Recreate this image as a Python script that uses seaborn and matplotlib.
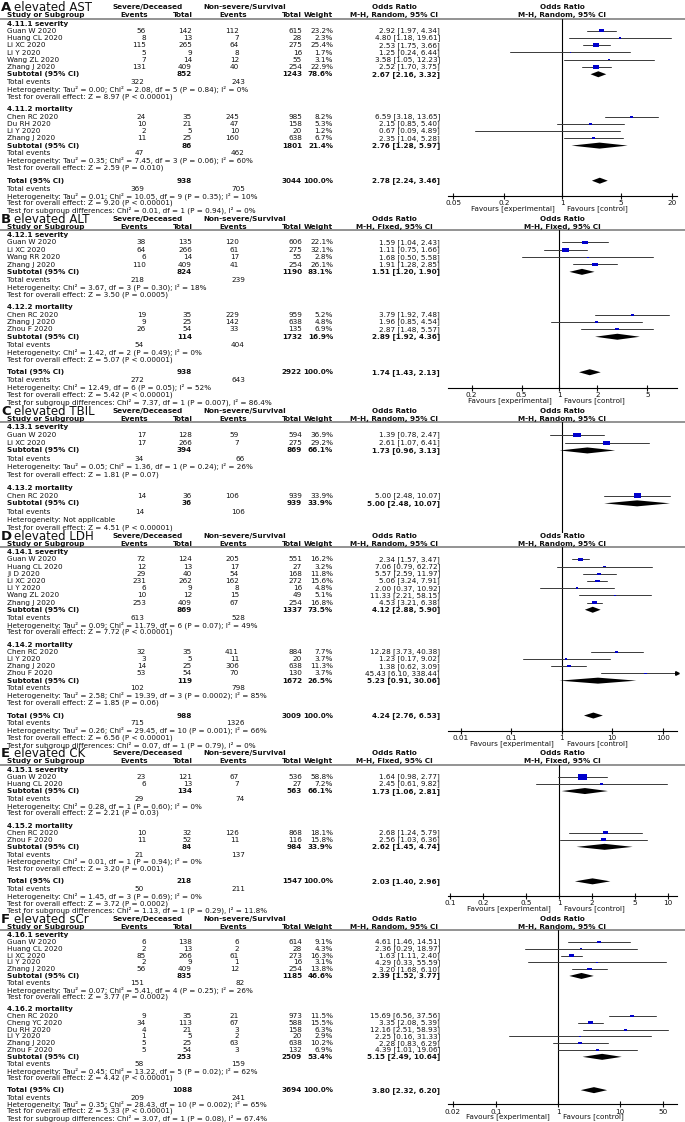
import numpy as np
import pandas as pd
import matplotlib
matplotlib.use("Agg")
import matplotlib.pyplot as plt
from matplotlib.path import Path
from matplotlib.ticker import NullLocator
import seaborn as sns

sns.set_theme(style="white")
plt.rcParams["font.family"] = ["DejaVu Sans"]

# ------------------------------------------------------------------
# data: (study, events sev, total sev, events non-sev, total non-sev, weight %, OR, low, high)
# ------------------------------------------------------------------
ast_sev = dict(
    label="4.11.1 severity",
    rows=[("Guan W 2020", 56, 142, 112, 615, 23.2, 2.92, 1.97, 4.34),
          ("Huang CL 2020", 8, 13, 7, 28, 2.3, 4.80, 1.18, 19.61),
          ("Li XC 2020", 115, 265, 64, 275, 25.4, 2.53, 1.75, 3.66),
          ("Li Y 2020", 5, 9, 8, 16, 1.7, 1.25, 0.24, 6.44),
          ("Wang ZL 2020", 7, 14, 12, 55, 3.1, 3.58, 1.05, 12.23),
          ("Zhang J 2020", 131, 409, 40, 254, 22.9, 2.52, 1.70, 3.75)],
    sub=(852, 1243, 78.6, 2.67, 2.16, 3.32), events=(322, 243),
    het="Tau² = 0.00; Chi² = 2.08, df = 5 (P = 0.84); I² = 0%",
    z="Z = 8.97 (P < 0.00001)")
ast_mort = dict(
    label="4.11.2 mortality",
    rows=[("Chen RC 2020", 24, 35, 245, 985, 8.2, 6.59, 3.18, 13.65),
          ("Du RH 2020", 10, 21, 47, 158, 5.3, 2.15, 0.85, 5.40),
          ("Li Y 2020", 2, 5, 10, 20, 1.2, 0.67, 0.09, 4.89),
          ("Zhang J 2020", 11, 25, 160, 638, 6.7, 2.35, 1.04, 5.28)],
    sub=(86, 1801, 21.4, 2.76, 1.28, 5.97), events=(47, 462),
    het="Tau² = 0.35; Chi² = 7.45, df = 3 (P = 0.06); I² = 60%",
    z="Z = 2.59 (P = 0.010)")
ast_total = dict(sub=(938, 3044, 100.0, 2.78, 2.24, 3.46), events=(369, 705),
                 het="Tau² = 0.01; Chi² = 10.05, df = 9 (P = 0.35); I² = 10%",
                 z="Z = 9.20 (P < 0.00001)",
                 diff="Chi² = 0.01, df = 1 (P = 0.94), I² = 0%")
ast_ticks = [0.05, 0.2, 1, 5, 20]

alt_sev = dict(
    label="4.12.1 severity",
    rows=[("Guan W 2020", 38, 135, 120, 606, 22.1, 1.59, 1.04, 2.43),
          ("Li XC 2020", 64, 266, 61, 275, 32.1, 1.11, 0.75, 1.66),
          ("Wang RR 2020", 6, 14, 17, 55, 2.8, 1.68, 0.50, 5.58),
          ("Zhang J 2020", 110, 409, 41, 254, 26.1, 1.91, 1.28, 2.85)],
    sub=(824, 1190, 83.1, 1.51, 1.20, 1.90), events=(218, 239),
    het="Chi² = 3.67, df = 3 (P = 0.30); I² = 18%",
    z="Z = 3.50 (P = 0.0005)")
alt_mort = dict(
    label="4.12.2 mortality",
    rows=[("Chen RC 2020", 19, 35, 229, 959, 5.2, 3.79, 1.92, 7.48),
          ("Zhang J 2020", 9, 25, 142, 638, 4.8, 1.96, 0.85, 4.54),
          ("Zhou F 2020", 26, 54, 33, 135, 6.9, 2.87, 1.48, 5.57)],
    sub=(114, 1732, 16.9, 2.89, 1.92, 4.36), events=(54, 404),
    het="Chi² = 1.42, df = 2 (P = 0.49); I² = 0%",
    z="Z = 5.07 (P < 0.00001)")
alt_total = dict(sub=(938, 2922, 100.0, 1.74, 1.43, 2.13), events=(272, 643),
                 het="Chi² = 12.49, df = 6 (P = 0.05); I² = 52%",
                 z="Z = 5.42 (P < 0.00001)",
                 diff="Chi² = 7.37, df = 1 (P = 0.007), I² = 86.4%")
alt_ticks = [0.2, 0.5, 1, 2, 5]

tbil_sev = dict(
    label="4.13.1 severity",
    rows=[("Guan W 2020", 17, 128, 59, 594, 36.9, 1.39, 0.78, 2.47),
          ("Li XC 2020", 17, 266, 7, 275, 29.2, 2.61, 1.07, 6.41)],
    sub=(394, 869, 66.1, 1.73, 0.96, 3.13), events=(34, 66),
    het="Tau² = 0.05; Chi² = 1.36, df = 1 (P = 0.24); I² = 26%",
    z="Z = 1.81 (P = 0.07)")
tbil_mort = dict(
    label="4.13.2 mortality",
    rows=[("Chen RC 2020", 14, 36, 106, 939, 33.9, 5.00, 2.48, 10.07)],
    sub=(36, 939, 33.9, 5.00, 2.48, 10.07), events=(14, 106),
    het="Not applicable",
    z="Z = 4.51 (P < 0.00001)")

ldh_sev = dict(
    label="4.14.1 severity",
    rows=[("Guan W 2020", 72, 124, 205, 551, 16.2, 2.34, 1.57, 3.47),
          ("Huang CL 2020", 12, 13, 17, 27, 3.2, 7.06, 0.79, 62.72),
          ("Ji D 2020", 29, 40, 54, 168, 11.8, 5.57, 2.59, 11.97),
          ("Li XC 2020", 231, 262, 162, 272, 15.6, 5.06, 3.24, 7.91),
          ("Li Y 2020", 6, 9, 8, 16, 4.8, 2.00, 0.37, 10.92),
          ("Wang ZL 2020", 10, 12, 15, 49, 5.1, 11.33, 2.21, 58.15),
          ("Zhang J 2020", 253, 409, 67, 254, 16.8, 4.53, 3.21, 6.38)],
    sub=(869, 1337, 73.5, 4.12, 2.88, 5.90), events=(613, 528),
    het="Tau² = 0.09; Chi² = 11.79, df = 6 (P = 0.07); I² = 49%",
    z="Z = 7.72 (P < 0.00001)")
ldh_mort = dict(
    label="4.14.2 mortality",
    rows=[("Chen RC 2020", 32, 35, 411, 884, 7.7, 12.28, 3.73, 40.38),
          ("Li Y 2020", 3, 5, 11, 20, 3.7, 1.23, 0.17, 9.02),
          ("Zhang J 2020", 14, 25, 306, 638, 11.3, 1.38, 0.62, 3.09),
          ("Zhou F 2020", 53, 54, 70, 130, 3.7, 45.43, 6.10, 338.44)],
    sub=(119, 1672, 26.5, 5.23, 0.91, 30.06), events=(102, 798),
    het="Tau² = 2.58; Chi² = 19.39, df = 3 (P = 0.0002); I² = 85%",
    z="Z = 1.85 (P = 0.06)")
ldh_total = dict(sub=(988, 3009, 100.0, 4.24, 2.76, 6.53), events=(715, 1326),
                 het="Tau² = 0.26; Chi² = 29.45, df = 10 (P = 0.001); I² = 66%",
                 z="Z = 6.56 (P < 0.00001)",
                 diff="Chi² = 0.07, df = 1 (P = 0.79), I² = 0%")
ldh_ticks = [0.01, 0.1, 1, 10, 100]

ck_sev = dict(
    label="4.15.1 severity",
    rows=[("Guan W 2020", 23, 121, 67, 536, 58.8, 1.64, 0.98, 2.77),
          ("Huang CL 2020", 6, 13, 7, 27, 7.2, 2.45, 0.61, 9.82)],
    sub=(134, 563, 66.1, 1.73, 1.06, 2.81), events=(29, 74),
    het="Chi² = 0.28, df = 1 (P = 0.60); I² = 0%",
    z="Z = 2.21 (P = 0.03)")
ck_mort = dict(
    label="4.15.2 mortality",
    rows=[("Chen RC 2020", 10, 32, 126, 868, 18.1, 2.68, 1.24, 5.79),
          ("Zhou F 2020", 11, 52, 11, 116, 15.8, 2.56, 1.03, 6.36)],
    sub=(84, 984, 33.9, 2.62, 1.45, 4.74), events=(21, 137),
    het="Chi² = 0.01, df = 1 (P = 0.94); I² = 0%",
    z="Z = 3.20 (P = 0.001)")
ck_total = dict(sub=(218, 1547, 100.0, 2.03, 1.40, 2.96), events=(50, 211),
                het="Chi² = 1.45, df = 3 (P = 0.69); I² = 0%",
                z="Z = 3.72 (P = 0.0002)",
                diff="Chi² = 1.13, df = 1 (P = 0.29), I² = 11.8%")
ck_ticks = [0.1, 0.2, 0.5, 1, 2, 5, 10]

scr_sev = dict(
    label="4.16.1 severity",
    rows=[("Guan W 2020", 6, 138, 6, 614, 9.1, 4.61, 1.46, 14.51),
          ("Huang CL 2020", 2, 13, 2, 28, 4.3, 2.36, 0.29, 18.97),
          ("Li XC 2020", 85, 266, 61, 273, 16.3, 1.63, 1.11, 2.40),
          ("Li Y 2020", 2, 9, 1, 16, 3.1, 4.29, 0.33, 55.59),
          ("Zhang J 2020", 56, 409, 12, 254, 13.8, 3.20, 1.68, 6.10)],
    sub=(835, 1185, 46.6, 2.39, 1.52, 3.77), events=(151, 82),
    het="Tau² = 0.07; Chi² = 5.41, df = 4 (P = 0.25); I² = 26%",
    z="Z = 3.77 (P = 0.0002)")
scr_mort = dict(
    label="4.16.2 mortality",
    rows=[("Chen RC 2020", 9, 35, 21, 973, 11.5, 15.69, 6.56, 37.56),
          ("Cheng YC 2020", 34, 113, 67, 588, 15.5, 3.35, 2.08, 5.39),
          ("Du RH 2020", 4, 21, 3, 158, 6.3, 12.16, 2.51, 58.93),
          ("Li Y 2020", 1, 5, 2, 20, 2.9, 2.25, 0.16, 31.33),
          ("Zhang J 2020", 5, 25, 63, 638, 10.2, 2.28, 0.83, 6.29),
          ("Zhou F 2020", 5, 54, 3, 132, 6.9, 4.39, 1.01, 19.06)],
    sub=(253, 2509, 53.4, 5.15, 2.49, 10.64), events=(58, 159),
    het="Tau² = 0.45; Chi² = 13.22, df = 5 (P = 0.02); I² = 62%",
    z="Z = 4.42 (P < 0.00001)")
scr_total = dict(sub=(1088, 3694, 100.0, 3.80, 2.32, 6.20), events=(209, 241),
                 het="Tau² = 0.35; Chi² = 28.43, df = 10 (P = 0.002); I² = 65%",
                 z="Z = 5.33 (P < 0.00001)",
                 diff="Chi² = 3.07, df = 1 (P = 0.08), I² = 67.4%")
scr_ticks = [0.02, 0.1, 1, 10, 50]

panels = [
    ("A", "elevated AST", "Random", [ast_sev, ast_mort], ast_total, ast_ticks),
    ("B", "elevated ALT", "Fixed", [alt_sev, alt_mort], alt_total, alt_ticks),
    ("C", "elevated TBIL", "Random", [tbil_sev, tbil_mort], None, None),
    ("D", "elevated LDH", "Random", [ldh_sev, ldh_mort], ldh_total, ldh_ticks),
    ("E", "elevated CK", "Fixed", [ck_sev, ck_mort], ck_total, ck_ticks),
    ("F", "elevated sCr", "Random", [scr_sev, scr_mort], scr_total, scr_ticks),
]

# ------------------------------------------------------------------
# layout (pixels)
# ------------------------------------------------------------------
W, H = 685, 1122
FS = 5.25
TC = "#111111"
BLUE = "#0000cc"
GAP, SUBX, TRANS = 5.5, 0.6, 8.3
AX_L, AX_R = 448, 677
# per panel: row pitch and x range of the log axis
pitch = {"A": 7.25, "B": 7.35, "C": 7.8, "D": 7.2, "E": 7.1, "F": 6.8}
xrange_ = {"A": (0.0433, 23.1), "B": (0.1295, 8.62), "C": (0.0886, 11.7),
           "D": (0.00561, 192), "E": (0.0959, 12.1), "F": (0.0168, 83)}
RECT = Path([(-1, -0.6), (1, -0.6), (1, 0.6), (-1, 0.6), (-1, -0.6)], closed=True)

fig = plt.figure(figsize=(W / 100, H / 100), dpi=100)
axt = fig.add_axes([0, 0, 1, 1])
axt.set_xlim(0, W)
axt.set_ylim(H, 0)
axt.axis("off")


def put(x, y, s, ha="left", bold=False, size=FS):
    axt.text(x, y, s, ha=ha, va="center", fontsize=size, color=TC,
             fontweight="bold" if bold else "normal")


def ci(o, lo, hi):
    return f"{o:.2f} [{lo:.2f}, {hi:.2f}]"


def summary_rows(y, p, name, blk, dias, last_diff=None):
    n1, n2, w, o, lo, hi = blk["sub"]
    put(7, y, name, bold=True)
    put(192, y, str(n1), ha="right", bold=True)
    put(302, y, str(n2), ha="right", bold=True)
    put(333, y, f"{w:.1f}%", ha="right", bold=True)
    put(440, y, ci(o, lo, hi), ha="right", bold=True)
    dias.append((o, lo, hi, y))
    y += p + SUBX
    put(7, y, "Total events")
    put(144, y, str(blk["events"][0]), ha="right")
    put(245, y, str(blk["events"][1]), ha="right")
    y += p
    put(7, y, "Heterogeneity: " + blk["het"])
    y += p
    put(7, y, "Test for overall effect: " + blk["z"])
    if last_diff:
        y += p
        put(7, y, "Test for subgroup differences: " + last_diff)
    return y


def draw_panel(y0, letter, title, method, groups, total, ticks):
    p = pitch[letter]
    xlim = xrange_[letter]
    axt.text(1, y0 + 4, letter, fontsize=9.5, fontweight="bold", va="baseline", color=TC)
    axt.text(14, y0 + 4, title, fontsize=8.5, va="baseline", color=TC)
    put(148, y0, "Severe/Deceased", ha="center", bold=True)
    put(245, y0, "Non-severe/Survival", ha="center", bold=True)
    put(394, y0, "Odds Ratio", ha="center", bold=True)
    put(562, y0, "Odds Ratio", ha="center", bold=True)
    hy = y0 + 8
    put(7, hy, "Study or Subgroup", bold=True)
    put(148, hy, "Events", ha="right", bold=True)
    put(193, hy, "Total", ha="right", bold=True)
    put(247, hy, "Events", ha="right", bold=True)
    put(302, hy, "Total", ha="right", bold=True)
    put(333, hy, "Weight", ha="right", bold=True)
    put(394, hy, f"M-H, {method}, 95% CI", ha="center", bold=True)
    put(562, hy, f"M-H, {method}, 95% CI", ha="center", bold=True)
    line_y = y0 + 11.5
    axt.plot([0, W], [line_y, line_y], color="#808080", lw=1.2)

    pts, dias = [], []
    y = y0 + 16.5
    for gi, g in enumerate(groups):
        if gi > 0:
            y += p + GAP
        put(7, y, g["label"], bold=True)
        for (name, e1, n1, e2, n2, w, o, lo, hi) in g["rows"]:
            y += p
            put(7, y, name)
            put(146, y, str(e1), ha="right")
            put(192, y, str(n1), ha="right")
            put(239, y, str(e2), ha="right")
            put(302, y, str(n2), ha="right")
            put(333, y, f"{w:.1f}%", ha="right")
            put(440, y, ci(o, lo, hi), ha="right")
            pts.append(dict(odds=o, lo=lo, hi=hi, w=w, y=y))
        y += p
        y = summary_rows(y, p, "Subtotal (95% CI)", g, dias)

    if total is not None:
        y += p + GAP
        ty = y
        y = summary_rows(y, p, "Total (95% CI)", total, dias, total["diff"])
        axis_y = ty + 2.1 * p
    else:
        axis_y = y + 6

    # forest plot
    ax = fig.add_axes([AX_L / W, 1 - axis_y / H, (AX_R - AX_L) / W, (axis_y - line_y) / H])
    ax.set_facecolor("none")
    ax.set_xscale("log")
    ax.set_xlim(*xlim)
    ax.set_ylim(axis_y, line_y)
    for s in ("top", "left", "right"):
        ax.spines[s].set_visible(False)
    ax.spines["bottom"].set_color("black")
    ax.spines["bottom"].set_linewidth(0.8)
    ax.set_yticks([])
    ax.xaxis.set_minor_locator(NullLocator())
    ax.axvline(1, color="black", lw=0.8, zorder=1)

    df = pd.DataFrame(pts)
    for r in df.itertuples():
        lo_c, hi_c = max(r.lo, xlim[0]), min(r.hi, xlim[1])
        ax.plot([lo_c, hi_c], [r.y, r.y], color="#3a3a3a", lw=0.7, zorder=2)
        if r.hi > xlim[1]:
            ax.plot([xlim[1] * 0.985], [r.y], marker=">", ms=2.6, color="black",
                    clip_on=False, zorder=3)
    sns.scatterplot(data=df, x="odds", y="y", size="w", sizes=(0, 75), size_norm=(0, 100),
                    marker=RECT, color=BLUE, edgecolor="none", legend=False, ax=ax, zorder=4)
    for (o, lo, hi, yy) in dias:
        ax.fill([lo, o, hi, o], [yy, yy - 3, yy, yy + 3], color="black", lw=0, zorder=4)
    ax.set_xlabel("")
    ax.set_ylabel("")

    if ticks is not None:
        ax.set_xticks(ticks)
        ax.set_xticklabels([f"{t:g}" for t in ticks])
        ax.tick_params(axis="x", bottom=True, direction="inout", length=4, width=0.8,
                       labelsize=FS, pad=1, colors=TC)
        lx = AX_L + (AX_R - AX_L) * (0 - np.log10(xlim[0])) / (np.log10(xlim[1]) - np.log10(xlim[0]))
        put(lx - 8, axis_y + 12.5, "Favours [experimental]", ha="right")
        put(lx + 5, axis_y + 12.5, "Favours [control]")
    else:
        ax.spines["bottom"].set_visible(False)
        ax.set_xticks([])

    return y + TRANS


y0 = 7
for (letter, title, method, groups, total, ticks) in panels:
    y0 = draw_panel(y0, letter, title, method, groups, total, ticks)

fig.savefig("out.png", dpi=100)
